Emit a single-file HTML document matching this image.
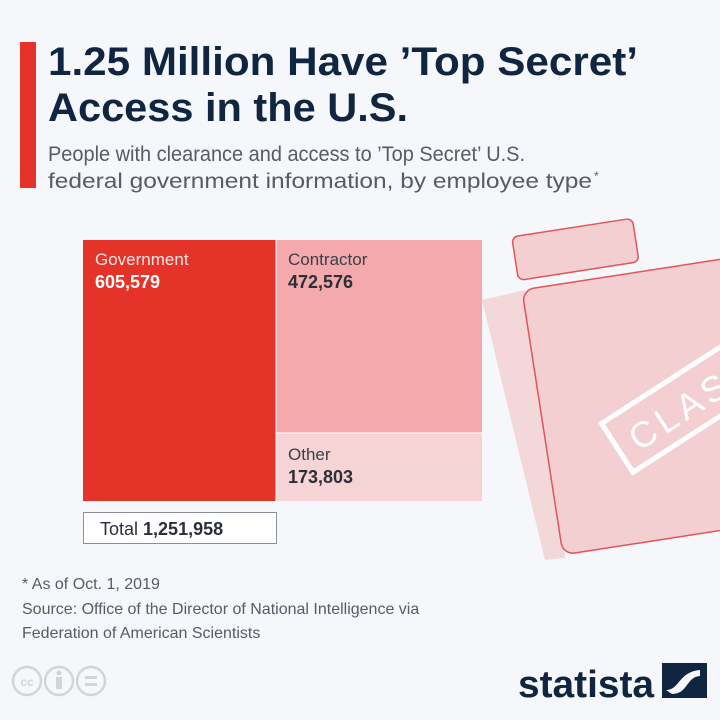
<!DOCTYPE html>
<html><head><meta charset="utf-8"><style>
html,body{margin:0;padding:0;background:#f5f7fa;}
svg{display:block}
text{font-family:"Liberation Sans",sans-serif;}
</style></head><body>
<svg width="720" height="720" viewBox="0 0 720 720">
<rect width="720" height="720" fill="#f5f7fa"/>
<rect x="20" y="42" width="16" height="146" fill="#e5332a"/>
<text x="48" y="75" font-size="40" font-weight="bold" fill="#0f2540" textLength="590" lengthAdjust="spacingAndGlyphs">1.25 Million Have ’Top Secret’</text>
<text x="48" y="121" font-size="40" font-weight="bold" fill="#0f2540" textLength="360" lengthAdjust="spacingAndGlyphs">Access in the U.S.</text>
<text x="48" y="161" font-size="21" fill="#555c66" textLength="477" lengthAdjust="spacingAndGlyphs">People with clearance and access to ’Top Secret’ U.S.</text>
<text x="48" y="188" font-size="21" fill="#555c66" textLength="544" lengthAdjust="spacingAndGlyphs">federal government information, by employee type</text>
<text x="594" y="180" font-size="12" fill="#555c66">*</text>

<!-- folder shadow -->
<polygon points="482,300 525,290 565,558 545,560" fill="#f3d7d9"/>
<g transform="translate(522,290) rotate(-8.8)">
  <rect x="-2" y="-54" width="122" height="44" rx="6" fill="#f4cfd1" stroke="#e0555a" stroke-width="1.5"/>
  <rect x="0" y="0" width="280" height="268" rx="12" fill="#f4cfd1" stroke="#e0555a" stroke-width="1.5"/>
  <g transform="translate(85,165) rotate(-24)">
    <rect x="-16" y="-30" width="230" height="58" fill="none" stroke="#fff" stroke-width="5"/>
    <text x="0" y="14" font-size="36" fill="#fff" letter-spacing="5">CLASSIFIED</text>
  </g>
</g>

<!-- treemap -->
<rect x="83" y="240" width="193" height="261" fill="#e5332a"/>
<rect x="276" y="240" width="206" height="193" fill="#f4a9ac"/>
<rect x="276" y="433" width="206" height="68" fill="#f6d3d4"/>
<line x1="276" y1="433" x2="482" y2="433" stroke="#fff" stroke-width="1"/>
<line x1="276" y1="240" x2="276" y2="501" stroke="#fff" stroke-width="1"/>
<text x="95" y="265" font-size="17" fill="#fde5e4">Government</text>
<text x="95" y="288" font-size="18" font-weight="bold" fill="#fff">605,579</text>
<text x="288" y="265" font-size="17" fill="#3a3f48">Contractor</text>
<text x="288" y="288" font-size="18" font-weight="bold" fill="#2a2f38">472,576</text>
<text x="288" y="460" font-size="17" fill="#3a3f48">Other</text>
<text x="288" y="483" font-size="18" font-weight="bold" fill="#2a2f38">173,803</text>
<rect x="83.5" y="512.5" width="193" height="31" fill="#fff" stroke="#8a8f98" stroke-width="1"/>
<text x="100" y="535" font-size="18" fill="#2a2f38">Total <tspan font-weight="bold">1,251,958</tspan></text>

<text x="22" y="589" font-size="16" fill="#555c66">* As of Oct. 1, 2019</text>
<text x="22" y="614" font-size="16" fill="#555c66">Source: Office of the Director of National Intelligence via</text>
<text x="22" y="638" font-size="16" fill="#555c66">Federation of American Scientists</text>

<g fill="none" stroke="#d2d4d8" stroke-width="2.5">
<circle cx="27" cy="681" r="14"/><circle cx="59" cy="681" r="14"/><circle cx="91" cy="681" r="14"/>
</g>
<text x="27" y="686" font-size="12" font-weight="bold" fill="#d2d4d8" text-anchor="middle">cc</text>
<circle cx="59" cy="673" r="2.5" fill="#d2d4d8"/>
<rect x="56" y="677" width="6" height="12" fill="#d2d4d8"/>
<rect x="85" y="676" width="12" height="3" fill="#d2d4d8"/>
<rect x="85" y="683" width="12" height="3" fill="#d2d4d8"/>

<text x="518" y="697" font-size="38" font-weight="bold" fill="#0f2540" textLength="136" lengthAdjust="spacingAndGlyphs">statista</text>
<rect x="662" y="663" width="45" height="35" fill="#0f2540"/>
<path d="M666,690 C680,690 678,672 700,670 L700,676 C686,677 688,694 672,694 Z" fill="#f5f7fa"/>
</svg>
</body></html>
